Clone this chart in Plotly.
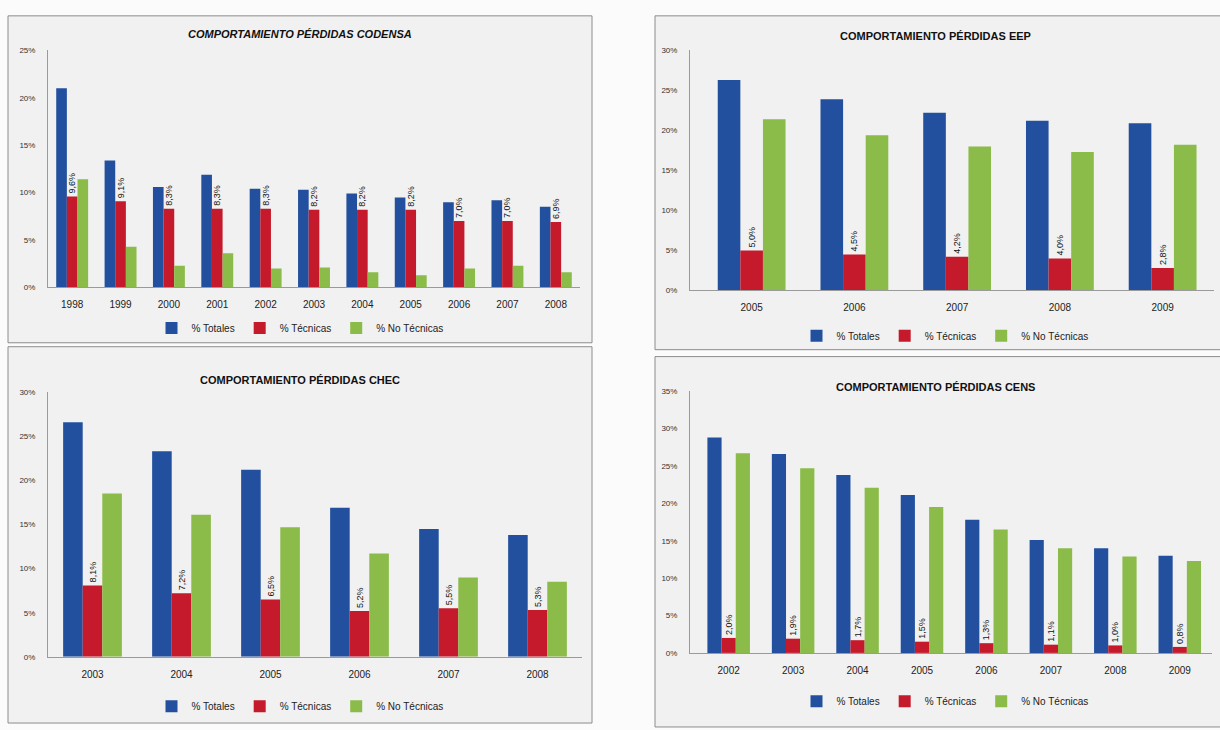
import plotly.graph_objects as go

W, H = 1220, 730

# ---- data ----
codensa_years = ["1998", "1999", "2000", "2001", "2002", "2003", "2004", "2005", "2006", "2007", "2008"]
codensa_totales = [21.0, 13.4, 10.6, 11.9, 10.4, 10.3, 9.9, 9.5, 9.0, 9.2, 8.5]
codensa_tecnicas = [9.6, 9.1, 8.3, 8.3, 8.3, 8.2, 8.2, 8.2, 7.0, 7.0, 6.9]
codensa_no_tecnicas = [11.4, 4.3, 2.3, 3.6, 2.0, 2.1, 1.6, 1.3, 2.0, 2.3, 1.6]

eep_years = ["2005", "2006", "2007", "2008", "2009"]
eep_totales = [26.3, 23.9, 22.2, 21.2, 20.9]
eep_tecnicas = [5.0, 4.5, 4.2, 4.0, 2.8]
eep_no_tecnicas = [21.4, 19.4, 18.0, 17.3, 18.2]

chec_years = ["2003", "2004", "2005", "2006", "2007", "2008"]
chec_totales = [26.6, 23.3, 21.2, 16.9, 14.5, 13.8]
chec_tecnicas = [8.1, 7.2, 6.5, 5.2, 5.5, 5.3]
chec_no_tecnicas = [18.5, 16.1, 14.7, 11.7, 9.0, 8.5]

cens_years = ["2002", "2003", "2004", "2005", "2006", "2007", "2008", "2009"]
cens_totales = [28.8, 26.6, 23.8, 21.1, 17.8, 15.1, 14.0, 13.0]
cens_tecnicas = [2.0, 1.9, 1.7, 1.5, 1.3, 1.1, 1.0, 0.8]
cens_no_tecnicas = [26.7, 24.7, 22.1, 19.5, 16.5, 14.0, 12.9, 12.3]

series_names = ["% Totales", "% Técnicas", "% No Técnicas"]
colors = ["#22509f", "#c41a2b", "#8bbb48"]

FONT = "Liberation Sans Narrow, Arial Narrow, Liberation Sans, sans-serif"

def px_x(p):
    return p / W

def px_y(p):
    return 1 - p / H

panels = [
    dict(title="<i>COMPORTAMIENTO PÉRDIDAS CODENSA</i>", years=codensa_years,
         vals=[codensa_totales, codensa_tecnicas, codensa_no_tecnicas],
         xd=(48, 580), yd=(287, 47), yr=25, xr=(-0.5, 10.5),
         title_xy=(300, 30), legend_xy=(300, 328), box=(8, 12, 592, 343)),
    dict(title="COMPORTAMIENTO PÉRDIDAS EEP", years=eep_years,
         vals=[eep_totales, eep_tecnicas, eep_no_tecnicas],
         xd=(690, 1214), yd=(290, 47), yr=30, xr=(-0.6, 4.5),
         title_xy=(935, 32), legend_xy=(945, 336), box=(655, 12, 1222, 350)),
    dict(title="COMPORTAMIENTO PÉRDIDAS CHEC", years=chec_years,
         vals=[chec_totales, chec_tecnicas, chec_no_tecnicas],
         xd=(48, 582), yd=(661, 393), yr=30, xr=(-0.5, 5.5),
         title_xy=(300, 381), legend_xy=(300, 711), box=(8, 347, 592, 728)),
    dict(title="COMPORTAMIENTO PÉRDIDAS CENS", years=cens_years,
         vals=[cens_totales, cens_tecnicas, cens_no_tecnicas],
         xd=(690, 1212), yd=(657, 392), yr=35, xr=(-0.6, 7.5),
         title_xy=(935, 388), legend_xy=(945, 706), box=(655, 357, 1222, 732)),
]

fig = go.Figure()
layout = dict(
    width=W, height=H, margin=dict(l=0, r=0, t=0, b=0),
    paper_bgcolor="#fbfbfb", plot_bgcolor="rgba(0,0,0,0)",
    barmode="group", bargap=0.34, bargroupgap=0.0,
    font=dict(family=FONT, size=9, color="#222222"),
    showlegend=True,
)
shapes = []
annotations = []

for i, p in enumerate(panels):
    k = "" if i == 0 else str(i + 1)
    xa, ya = "x" + k, "y" + k
    lg = "legend" + k
    for s in range(3):
        vals = p["vals"][s]
        kw = {}
        if s == 1:
            kw = dict(
                text=[("%.1f%%" % v).replace(".", ",") for v in vals],
                textposition="outside", textangle=-90,
                textfont=dict(family=FONT, size=9, color="#111111"),
                constraintext="none", cliponaxis=False,
            )
        fig.add_trace(go.Bar(
            x=p["years"], y=vals, name=series_names[s],
            marker=dict(color=colors[s], line=dict(width=0)),
            xaxis=xa, yaxis=ya, legend=lg, hoverinfo="skip", **kw))
    layout["xaxis" + k] = dict(
        domain=[px_x(p["xd"][0]), px_x(p["xd"][1])], anchor=ya,
        type="category", range=list(p["xr"]),
        showline=True, linecolor="#9a9a9a", linewidth=1,
        ticks="", showgrid=False, zeroline=False,
        tickfont=dict(family=FONT, size=10, color="#222222"),
        ticklabelstandoff=8)
    layout["yaxis" + k] = dict(
        domain=[px_y(p["yd"][0]), px_y(p["yd"][1])], anchor=xa,
        range=[0, p["yr"]], dtick=5, ticksuffix="%",
        showline=True, linecolor="#9a9a9a", linewidth=1,
        ticks="", showgrid=False, zeroline=False,
        tickfont=dict(family=FONT, size=8, color="#333333"),
        ticklabelstandoff=10)
    layout[lg] = dict(
        orientation="h", x=px_x(p["legend_xy"][0]), y=px_y(p["legend_xy"][1]),
        xanchor="center", yanchor="middle", bgcolor="rgba(0,0,0,0)",
        font=dict(family=FONT, size=10, color="#222222"),
        itemwidth=30, tracegroupgap=0, itemclick=False)
    x0, y0, x1, y1 = p["box"]
    shapes.append(dict(type="rect", xref="paper", yref="paper",
                       x0=px_x(x0), x1=px_x(x1), y0=px_y(y1), y1=px_y(y0),
                       line=dict(color="#8c8c8c", width=1),
                       fillcolor="#f1f1f1", layer="below"))
    annotations.append(dict(
        text="<b>" + p["title"] + "</b>", xref="paper", yref="paper",
        x=px_x(p["title_xy"][0]), y=px_y(p["title_xy"][1]),
        xanchor="center", yanchor="middle", showarrow=False,
        font=dict(family=FONT, size=11, color="#111111")))

layout["shapes"] = shapes
layout["annotations"] = annotations
fig.update_layout(**layout)
fig.write_html("out.html")
